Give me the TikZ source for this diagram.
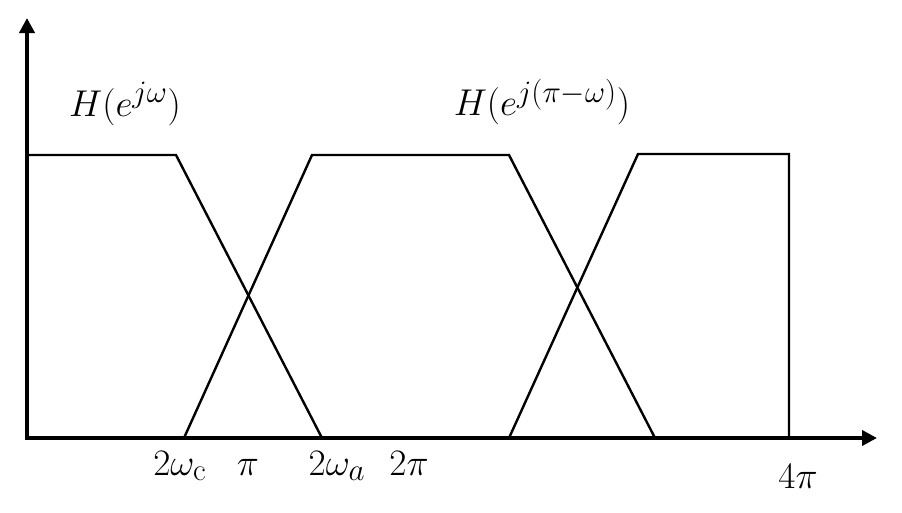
\documentclass[tikz,border=0pt]{standalone}
\usepackage{graphicx}
\usetikzlibrary{arrows.meta}
\newcommand{\biglbl}[1]{\scalebox{1.5}{\Huge $#1$}}
\begin{document}
\begin{tikzpicture}[x=1pt,y=-1pt,
  axis/.style={line width=4pt,-{Triangle[length=15pt,width=15pt]}},
  curve/.style={line width=2.4pt,line join=miter},
  lbl/.style={inner sep=0pt}]
\useasboundingbox (0,0) rectangle (902,512);
\coordinate (o) at (27,438);
\coordinate (ytop) at (27,18);
\coordinate (xend) at (877,438);
\draw[axis] (27,440) -- (ytop);
\draw[axis] (25,438) -- (xend);
% first response
\coordinate (a1) at (27,155);
\coordinate (a2) at (176,155);
\coordinate (a3) at (322,438);
\draw[curve] (a1) -- (a2) -- (a3);
% second
\coordinate (b1) at (184,438);
\coordinate (b2) at (312,155);
\coordinate (b3) at (509,155);
\coordinate (b4) at (655,438);
\draw[curve] (b1) -- (b2) -- (b3) -- (b4);
% third
\coordinate (c1) at (509,438);
\coordinate (c2) at (638,154);
\coordinate (c3) at (789,154);
\coordinate (c4) at (789,438);
\draw[curve] (c1) -- (c2) -- (c3) -- (c4);
% labels
\node[lbl] (h1) at (125,104) {\biglbl{H(e^{j\omega})}};
\node[lbl] (h2) at (542,102) {\biglbl{H(e^{j(\pi-\omega)})}};
\node[lbl,anchor=base] (t1) at (180,475) {\biglbl{2\omega_{\mathrm{c}}}};
\node[lbl,anchor=base] (t2) at (248,475) {\biglbl{\pi}};
\node[lbl,anchor=base] (t3) at (337,475) {\biglbl{2\omega_a}};
\node[lbl,anchor=base] (t4) at (409,475) {\biglbl{2\pi}};
\node[lbl,anchor=base] (t5) at (798,488) {\biglbl{4\pi}};
\end{tikzpicture}
\end{document}
